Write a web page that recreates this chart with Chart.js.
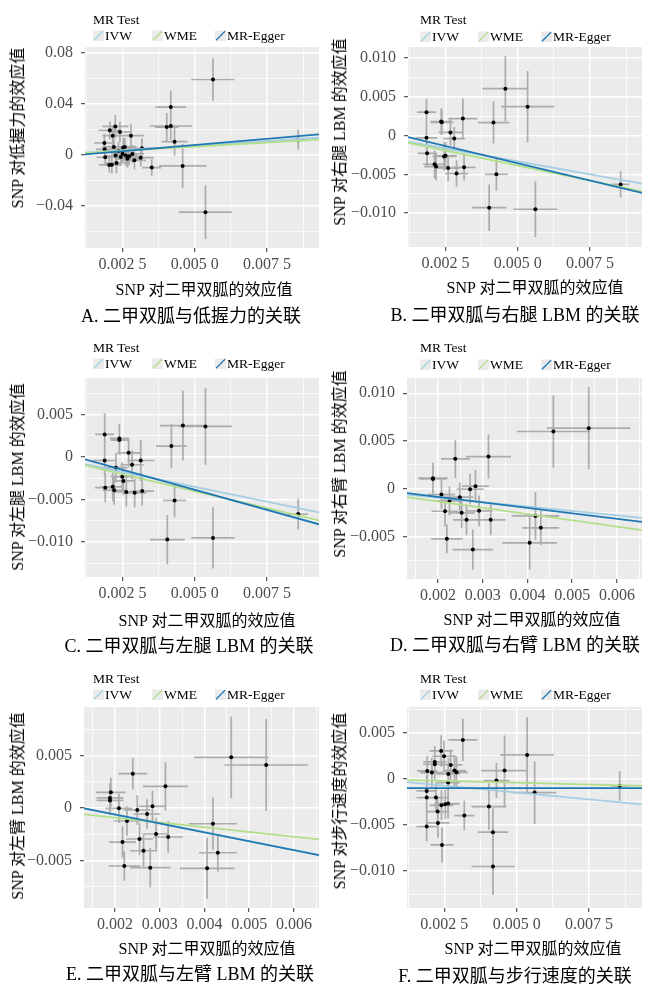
<!DOCTYPE html>
<html>
<head>
<meta charset="utf-8">
<script src="https://cdn.jsdelivr.net/npm/chart.js@4.4.1/dist/chart.umd.min.js"></script>
<style>
  body { margin: 0; background: #fff; }
  #wrap { position: relative; width: 646px; height: 984px; overflow: hidden;
    font-family: "Liberation Serif", "Noto Sans CJK SC", serif; color: #000; }
  .panel { position: absolute; width: 323px; height: 328px; }
  .panel canvas { position: absolute; left: 0; top: 0; }
  .txt { position: absolute; white-space: nowrap; line-height: 1; }
  .ytitle { font-size: 16px; transform: translate(-50%, -50%) rotate(-90deg); }
  .xtitle { font-size: 16px; transform: translate(-50%, -50%); }
  .caption { font-size: 18px; transform: translate(-50%, -50%); }
  .legtitle { font-size: 13.5px; transform: translateY(-50%); }
  .key { position: absolute; display: flex; align-items: center; font-size: 13.5px; line-height: 1; transform: translateY(-50%); white-space: nowrap; }
  .key svg { margin-right: 1px; }
</style>
</head>
<body>
<div id="wrap"></div>
<script>
// regression methods
const methods = ['IVW', 'WME', 'MR-Egger'];
const methodColors = ['#a6cee3', '#b2df8a', '#1f78b4'];

// shared x axes
const xTicksWide = [0.0025, 0.005, 0.0075];
const xLabelsWide = ['0.002 5', '0.005 0', '0.007 5'];
const xMinorWide = [0.00125, 0.00375, 0.00625, 0.00875];
const xTicksNarrow = [0.002, 0.003, 0.004, 0.005, 0.006];
const xLabelsNarrow = ['0.002', '0.003', '0.004', '0.005', '0.006'];
const xMinorNarrow = [0.0015, 0.0025, 0.0035, 0.0045, 0.0055, 0.0065];

const xTitle = 'SNP 对二甲双胍的效应值';
const yTitles = ['SNP 对低握力的效应值', 'SNP 对右腿 LBM 的效应值', 'SNP 对左腿 LBM 的效应值',
  'SNP 对右臂 LBM 的效应值', 'SNP 对左臂 LBM 的效应值', 'SNP 对步行速度的效应值'];
const captions = ['A. 二甲双胍与低握力的关联', 'B. 二甲双胍与右腿 LBM 的关联', 'C. 二甲双胍与左腿 LBM 的关联',
  'D. 二甲双胍与右臂 LBM 的关联', 'E. 二甲双胍与左臂 LBM 的关联', 'F. 二甲双胍与步行速度的关联'];

// A. low grip strength
const aX = [0.00563, 0.00417, 0.00403, 0.00417, 0.0043, 0.00458, 0.00537, 0.00351, 0.00858,
  0.00187, 0.00188, 0.0019, 0.00206, 0.00216, 0.00225, 0.00241, 0.0022, 0.00204, 0.00213, 0.00229,
  0.00226, 0.00236, 0.00244, 0.00252, 0.00258, 0.00261, 0.00267, 0.00273, 0.00279, 0.00284, 0.00291,
  0.00313, 0.00317, 0.0025];
const aY = [0.0592, 0.0376, 0.0219, 0.0227, 0.0104, -0.0086, -0.0449, -0.0099, 0.012,
  0.0094, 0.0044, -0.0018, 0.0193, 0.0151, 0.0224, 0.018, 0.0063, -0.0078, -0.0076, -0.0063,
  -0.0005, 0.0031, -0.0016, 0.0057, 0.0063, -0.0005, -0.0029, -0.001, 0.0151, 0.0008, -0.0042,
  -0.0021, 0.0052, 0.001];
const aSeX = [0.00075, 0.00053, 0.0004, 0.00073, 0.00045, 0.00082, 0.00092, 0.00033, 0.00025,
  0.00035, 0.0003, 0.0003, 0.0004, 0.00035, 0.00045, 0.0004, 0.0004, 0.00035, 0.0003, 0.0004,
  0.0004, 0.0004, 0.00035, 0.00045, 0.0004, 0.0004, 0.00045, 0.0004, 0.00045, 0.0004, 0.0004,
  0.00045, 0.0005, 0.0004];
const aSeY = [0.0167, 0.0128, 0.011, 0.011, 0.011, 0.0172, 0.021, 0.0065, 0.008,
  0.007, 0.006, 0.006, 0.007, 0.008, 0.009, 0.008, 0.007, 0.006, 0.007, 0.008,
  0.007, 0.007, 0.007, 0.008, 0.007, 0.008, 0.007, 0.007, 0.009, 0.007, 0.007,
  0.007, 0.008, 0.007];
const aSlope = [1.45, 1.3, 1.94];
const aIcpt = [0, 0, -0.00183];
const aYTicks = [-0.04, 0, 0.04, 0.08];
const aYLabels = ['−0.04', '0', '0.04', '0.08'];
const aYMinor = [-0.06, -0.02, 0.02, 0.06];

// B. right leg LBM
const bX = [0.00457, 0.00534, 0.00416, 0.0031, 0.00184, 0.00235, 0.00237, 0.00267, 0.0028, 0.00184,
  0.00186, 0.00212, 0.00217, 0.00245, 0.0025, 0.00259, 0.00288, 0.00314, 0.00426, 0.00401, 0.00561, 0.00856];
const bY = [0.00603, 0.00372, 0.00167, 0.00218, 0.003, 0.0018, 0.0017, 0.0004, -0.0004, -0.0003,
  -0.0023, -0.0037, -0.004, -0.0027, -0.0026, -0.0042, -0.0049, -0.0041, -0.005, -0.0093, -0.0095, -0.0063];
const bSeX = [0.00079, 0.00092, 0.00054, 0.0005, 0.00033, 0.00037, 0.0004, 0.0004, 0.00037, 0.00037,
  0.00032, 0.0004, 0.0004, 0.0004, 0.0004, 0.0004, 0.0004, 0.0004, 0.0004, 0.0006, 0.00076, 0.0003];
const bSeY = [0.0042, 0.0046, 0.0027, 0.0026, 0.0017, 0.0017, 0.0016, 0.0017, 0.0015, 0.0016,
  0.0016, 0.0018, 0.0018, 0.0018, 0.0018, 0.0017, 0.0017, 0.0017, 0.0021, 0.003, 0.0036, 0.0017];
const bSlope = [-0.667, -0.775, -0.889];
const bIcpt = [0, 0, 0.00087];
const bYTicks = [-0.01, -0.005, 0, 0.005, 0.01];
const bYLabels = ['−0.010', '−0.005', '0', '0.005', '0.010'];
const bYMinor = [-0.0125, -0.0075, -0.0025, 0.0025, 0.0075];

// C. left leg LBM
const cX = [0.00188, 0.00239, 0.00239, 0.00271, 0.00188, 0.00227, 0.00283, 0.00313, 0.00249, 0.00253,
  0.0019, 0.00216, 0.00221, 0.00263, 0.00292, 0.00318, 0.00419, 0.00459, 0.00537, 0.0043, 0.00405, 0.00563, 0.00858];
const cY = [0.00266, 0.0022, 0.002, 0.0005, -0.0004, -0.00125, -0.0009, -0.0004, -0.0023, -0.0028,
  -0.0036, -0.0035, -0.0039, -0.0041, -0.0042, -0.004, 0.0013, 0.0037, 0.0036, -0.0051, -0.0097, -0.0095, -0.0067];
const cSeX = [0.00033, 0.00033, 0.0003, 0.0004, 0.0004, 0.0004, 0.0004, 0.00046, 0.0004, 0.0004,
  0.00035, 0.0004, 0.0004, 0.0004, 0.0004, 0.0004, 0.00053, 0.00079, 0.00092, 0.0004, 0.0006, 0.00075, 0.00034];
const cSeY = [0.0025, 0.0017, 0.0017, 0.0017, 0.0017, 0.0017, 0.0017, 0.0024, 0.0017, 0.0017,
  0.0017, 0.0017, 0.0017, 0.0017, 0.0017, 0.0017, 0.0026, 0.0041, 0.0045, 0.002, 0.0029, 0.0036, 0.0018];
const cSlope = [-0.7, -0.8, -0.942];
const cIcpt = [0, 0, 0.00086];
const cYTicks = [-0.01, -0.005, 0, 0.005];
const cYLabels = ['−0.010', '−0.005', '0', '0.005'];
const cYMinor = [-0.0125, -0.0075, -0.0025, 0.0025, 0.0075];

// D. right arm LBM
const dX = [0.00189, 0.00189, 0.00208, 0.00226, 0.00239, 0.00313, 0.00249, 0.00216, 0.00253, 0.00264,
  0.00272, 0.00284, 0.00292, 0.00318, 0.0022, 0.00278, 0.00458, 0.00537, 0.00418, 0.0043, 0.00405];
const dY = [0.00112, 0.00104, -0.0006, -0.00126, 0.00314, 0.00338, -0.00087, -0.00234, -0.00251, -0.00324,
  -0.00003, 0.00028, -0.0023, -0.00324, -0.00523, -0.00635, 0.006, 0.00635, -0.00283, -0.00408, -0.00565];
const dSeX = [0.00033, 0.0003, 0.0003, 0.0003, 0.00032, 0.0005, 0.0003, 0.0003, 0.0003, 0.0003,
  0.0003, 0.0003, 0.0003, 0.00033, 0.00035, 0.00045, 0.00082, 0.00093, 0.00053, 0.00041, 0.00061];
const dSeY = [0.0016, 0.0015, 0.0015, 0.0015, 0.002, 0.0023, 0.0015, 0.0016, 0.0016, 0.0016,
  0.0016, 0.0017, 0.0016, 0.0016, 0.0015, 0.0021, 0.0038, 0.0043, 0.0025, 0.0018, 0.0028];
const dSlope = [-0.462, -0.658, -0.571];
const dIcpt = [0, 0, 0.0003];
const dYTicks = [-0.005, 0, 0.005, 0.01];
const dYLabels = ['−0.005', '0', '0.005', '0.010'];
const dYMinor = [-0.0075, -0.0025, 0.0025, 0.0075];

// E. left arm LBM
const eX = [0.00191, 0.00189, 0.00189, 0.00209, 0.00227, 0.0024, 0.00313, 0.0025, 0.00272, 0.00284,
  0.00217, 0.00255, 0.00292, 0.00319, 0.00264, 0.00221, 0.00279, 0.0046, 0.00538, 0.00419, 0.0043, 0.00406];
const eY = [0.0015, 0.00096, 0.00073, -0.00003, -0.00124, 0.00328, 0.00207, -0.00019, -0.00057, 0.00016,
  -0.00325, -0.00296, -0.00248, -0.00277, -0.00408, -0.00554, -0.0057, 0.00484, 0.00411, -0.0015, -0.00427, -0.00576];
const eSeX = [0.00033, 0.0003, 0.0003, 0.0003, 0.0003, 0.00032, 0.0005, 0.0003, 0.0003, 0.0003,
  0.0003, 0.0003, 0.0003, 0.00033, 0.0003, 0.00035, 0.00045, 0.00083, 0.00093, 0.00054, 0.00042, 0.00061];
const eSeY = [0.0014, 0.0014, 0.0014, 0.0014, 0.0014, 0.0015, 0.0023, 0.0014, 0.0014, 0.0015,
  0.0015, 0.0015, 0.0015, 0.0015, 0.0015, 0.0014, 0.0019, 0.0039, 0.0044, 0.0025, 0.0018, 0.0029];
const eSlope = [-0.851, -0.457, -0.851];
const eIcpt = [0.00109, 0, 0.00109];
const eYTicks = [-0.005, 0, 0.005];
const eYLabels = ['−0.005', '0', '0.005'];
const eYMinor = [-0.0075, -0.0025, 0.0025, 0.0075];

// F. walking pace
const fX = [0.00314, 0.00239, 0.00249, 0.00217, 0.00217, 0.00272, 0.00191, 0.00207, 0.00285, 0.00292,
  0.00264, 0.00263, 0.00458, 0.00536, 0.0043, 0.00562, 0.00189, 0.00189, 0.00221, 0.0024, 0.00253,
  0.00263, 0.00227, 0.00228, 0.00189, 0.00242, 0.00319, 0.00404, 0.00418, 0.00418, 0.00856];
const fY = [0.00423, 0.00304, 0.00246, 0.00184, 0.00159, 0.00152, 0.00087, 0.00069, 0.0009, 0.00072,
  0.00054, -0.0004, 0.0009, 0.0026, -0.00018, -0.00148, -0.0013, -0.00202, -0.00202, -0.00286, -0.00275,
  -0.00267, -0.00354, -0.00477, -0.00517, -0.00716, -0.00398, -0.003, -0.00578, -0.0095, -0.00076];
const fSeX = [0.0005, 0.0004, 0.0004, 0.0004, 0.0004, 0.0004, 0.00035, 0.0004, 0.0004, 0.0004,
  0.0004, 0.0004, 0.0008, 0.00093, 0.00045, 0.00075, 0.00035, 0.00035, 0.0004, 0.0004, 0.0004,
  0.0004, 0.0004, 0.0004, 0.00035, 0.0004, 0.00035, 0.0006, 0.00052, 0.00074, 0.0003];
const fSeY = [0.0023, 0.0017, 0.0017, 0.0017, 0.0017, 0.0017, 0.0016, 0.0016, 0.0017, 0.0017,
  0.0017, 0.0017, 0.0038, 0.0041, 0.0019, 0.0034, 0.0016, 0.0016, 0.0016, 0.0016, 0.0016,
  0.0016, 0.0016, 0.0016, 0.0016, 0.0019, 0.0016, 0.0025, 0.0026, 0.0031, 0.0016];
const fSlope = [-0.295, -0.081, 0];
const fIcpt = [0, 0, -0.001];
const fYTicks = [-0.01, -0.005, 0, 0.005];
const fYLabels = ['−0.010', '−0.005', '0', '0.005'];
const fYMinor = [-0.0125, -0.0075, -0.0025, 0.0025, 0.0075];

const FONT = '"Liberation Serif", "Noto Sans CJK SC", serif';
const XH = 34; // height of x tick label band

const panels = [
  { col: 0, row: 0, x: aX, y: aY, sx: aSeX, sy: aSeY, slope: aSlope, icpt: aIcpt,
    xr: [0.0012, 0.0093], yr: [-0.073, 0.0847], xt: xTicksWide, xl: xLabelsWide, xm: xMinorWide,
    yt: aYTicks, yl: aYLabels, ym: aYMinor,
    box: [85, 47, 322, 248], leg: [93, 20, 36], keyX: [93, 152, 215], yT: [18, 128], xT: [204, 290], cap: [191, 316] },
  { col: 1, row: 0, x: bX, y: bY, sx: bSeX, sy: bSeY, slope: bSlope, icpt: bIcpt,
    xr: [0.0012, 0.0093], yr: [-0.01436, 0.0114], xt: xTicksWide, xl: xLabelsWide, xm: xMinorWide,
    yt: bYTicks, yl: bYLabels, ym: bYMinor,
    box: [85, 47, 320, 247], leg: [97, 20, 37], keyX: [97, 155, 218], yT: [17, 132], xT: [212, 288], cap: [192, 315] },
  { col: 0, row: 1, x: cX, y: cY, sx: cSeX, sy: cSeY, slope: cSlope, icpt: cIcpt,
    xr: [0.0012, 0.0093], yr: [-0.0141, 0.0093], xt: xTicksWide, xl: xLabelsWide, xm: xMinorWide,
    yt: cYTicks, yl: cYLabels, ym: cYMinor,
    box: [85, 50, 322, 249], leg: [93, 20, 36], keyX: [93, 152, 215], yT: [18, 149], xT: [207, 293], cap: [189, 318] },
  { col: 1, row: 1, x: dX, y: dY, sx: dSeX, sy: dSeY, slope: dSlope, icpt: dIcpt,
    xr: [0.00131, 0.00656], yr: [-0.00943, 0.0116], xt: xTicksNarrow, xl: xLabelsNarrow, xm: xMinorNarrow,
    yt: dYTicks, yl: dYLabels, ym: dYMinor,
    box: [84, 50, 321, 251], leg: [97, 20, 37], keyX: [97, 155, 218], yT: [17, 136], xT: [209, 292], cap: [192, 317] },
  { col: 0, row: 2, x: eX, y: eY, sx: eSeX, sy: eSeY, slope: eSlope, icpt: eIcpt,
    xr: [0.00131, 0.00656], yr: [-0.00955, 0.00965], xt: xTicksNarrow, xl: xLabelsNarrow, xm: xMinorNarrow,
    yt: eYTicks, yl: eYLabels, ym: eYMinor,
    box: [84, 51, 321, 252], leg: [93, 23, 39], keyX: [93, 152, 215], yT: [18, 150], xT: [207, 293], cap: [190, 318] },
  { col: 1, row: 2, x: fX, y: fY, sx: fSeX, sy: fSeY, slope: fSlope, icpt: fIcpt,
    xr: [0.00121, 0.00933], yr: [-0.014, 0.0078], xt: xTicksWide, xl: xLabelsWide, xm: xMinorWide,
    yt: fYTicks, yl: fYLabels, ym: fYMinor,
    box: [84, 51, 321, 252], leg: [97, 23, 39], keyX: [97, 155, 218], yT: [17, 145], xT: [210, 293], cap: [192, 320] }
];

// grey ggplot panel behind the grid
const panelBg = {
  id: 'panelBg',
  beforeDraw(chart) {
    const { ctx, chartArea: a } = chart;
    ctx.save();
    ctx.fillStyle = '#ebebeb';
    ctx.fillRect(a.left, a.top, a.width, a.height);
    ctx.restore();
  }
};

function axis(min, max, majors, labels, minors, fit, pad) {
  const isMajor = v => majors.includes(v);
  return {
    type: 'linear', min, max,
    afterBuildTicks: s => { s.ticks = majors.concat(minors).sort((p, q) => p - q).map(v => ({ value: v })); },
    afterFit: fit,
    ticks: {
      autoSkip: false, maxRotation: 0, color: '#4d4d4d', font: { family: FONT, size: 16 }, padding: pad,
      callback: v => { const k = majors.indexOf(v); return k < 0 ? '' : labels[k]; }
    },
    grid: {
      color: '#ffffff',
      lineWidth: c => (c.tick && isMajor(c.tick.value)) ? 1.4 : 0.7,
      tickColor: c => (c.tick && isMajor(c.tick.value)) ? '#333333' : 'rgba(0,0,0,0)',
      tickLength: 4, tickWidth: 1
    },
    border: { display: false }
  };
}

function addText(parent, cls, text, left, top) {
  const d = document.createElement('div');
  d.className = 'txt ' + cls;
  d.textContent = text;
  d.style.left = left + 'px';
  d.style.top = top + 'px';
  parent.appendChild(d);
  return d;
}

const wrap = document.getElementById('wrap');

panels.forEach((p, i) => {
  const el = document.createElement('div');
  el.className = 'panel';
  el.style.left = (p.col * 323) + 'px';
  el.style.top = (p.row * 328) + 'px';
  wrap.appendChild(el);

  const cv = document.createElement('canvas');
  cv.width = 323; cv.height = 328;
  el.appendChild(cv);

  // legend
  addText(el, 'legtitle', 'MR Test', p.leg[0], p.leg[1]);
  methods.forEach((m, k) => {
    const key = document.createElement('div');
    key.className = 'key';
    key.style.left = p.keyX[k] + 'px';
    key.style.top = p.leg[2] + 'px';
    key.innerHTML = '<svg width="11" height="11"><rect width="11" height="11" fill="#ebebeb"/>' +
      '<line x1="1" y1="10" x2="10" y2="1" stroke="' + methodColors[k] + '" stroke-width="1.2"/></svg>';
    const s = document.createElement('span');
    s.textContent = m;
    key.appendChild(s);
    el.appendChild(key);
  });

  addText(el, 'ytitle', yTitles[i], p.yT[0], p.yT[1]);
  addText(el, 'xtitle', xTitle, p.xT[0], p.xT[1]);
  addText(el, 'caption', captions[i], p.cap[0], p.cap[1]);

  // error bars as broken polylines
  const bars = [];
  p.x.forEach((x, k) => {
    const y = p.y[k];
    bars.push({ x: x - p.sx[k], y }, { x: x + p.sx[k], y }, { x, y: null });
    bars.push({ x, y: y - p.sy[k] }, { x, y: y + p.sy[k] }, { x, y: null });
  });
  const fits = methods.map((m, k) => ({
    label: m, showLine: true, borderColor: methodColors[k], borderWidth: 1.8, pointRadius: 0,
    data: p.xr.map(x => ({ x, y: p.icpt[k] + p.slope[k] * x }))
  })).reverse();

  const [l, t, r, b] = p.box;
  new Chart(cv, {
    type: 'scatter',
    data: {
      datasets: fits.concat([
        { label: 'SNP', data: p.x.map((x, k) => ({ x, y: p.y[k] })), backgroundColor: '#000', borderWidth: 0, pointRadius: 2 },
        { label: 'se', data: bars, showLine: true, spanGaps: false, borderColor: 'rgba(100,100,100,0.48)', borderWidth: 1.7, pointRadius: 0 }
      ])
    },
    options: {
      responsive: false,
      animation: false,
      events: [],
      layout: { padding: { left: 0, top: t, right: 323 - r, bottom: 328 - b - XH } },
      plugins: { legend: { display: false }, tooltip: { enabled: false } },
      scales: {
        x: axis(p.xr[0], p.xr[1], p.xt, p.xl, p.xm, s => { s.height = XH; }, 3),
        y: axis(p.yr[0], p.yr[1], p.yt, p.yl, p.ym, s => { s.width = l; }, 8)
      }
    },
    plugins: [panelBg]
  });
});
</script>
</body>
</html>
